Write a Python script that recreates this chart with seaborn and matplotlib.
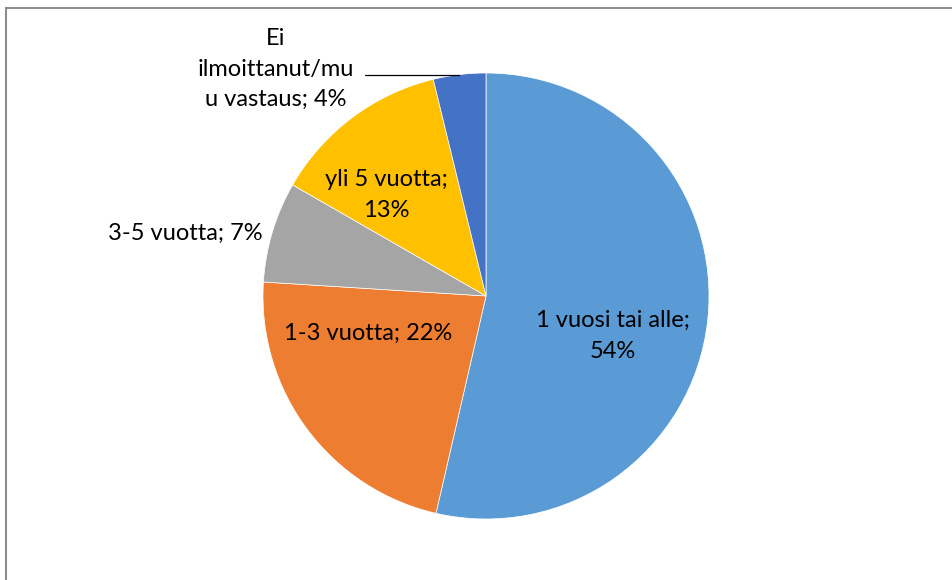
import matplotlib
matplotlib.use("Agg")
import matplotlib.pyplot as plt
import seaborn as sns
import numpy as np
from matplotlib.lines import Line2D

# ---- data ----
categories = ["1 vuosi tai alle", "1-3 vuotta", "3-5 vuotta", "yli 5 vuotta",
              "Ei ilmoittanut/muu vastaus"]
values = [53.6, 22.4, 7.3, 12.9, 3.8]
label_texts = ["1 vuosi tai alle;\n{p}%", "1-3 vuotta; {p}%", "3-5 vuotta; {p}%",
               "yli 5 vuotta;\n{p}%", "Ei\nilmoittanut/mu\nu vastaus; {p}%"]
colors = ["#5B9BD5", "#ED7D31", "#A5A5A5", "#FFC000", "#4472C4"]

sns.set_theme(style="white")
plt.rcParams['font.family'] = ['Lato', 'DejaVu Sans']

W, H = 953, 580
fig = plt.figure(figsize=(W / 100, H / 100), dpi=100)
ax = fig.add_axes([0, 0, 1, 1])

cx, cy, R = 486, H - 296, 223
wedges, _ = ax.pie(values, colors=colors, startangle=90, counterclock=False,
                   radius=R, center=(cx, cy),
                   wedgeprops=dict(edgecolor="white", linewidth=0.5))
ax.set_xlim(0, W)
ax.set_ylim(0, H)
ax.set_aspect("equal")
ax.axis("off")

# label layout (pixel positions, top-left origin)
label_pos = [(613, 336), (368, 333), (263, 233), (386, 195), (276, 69)]
label_ha = ["center", "center", "right", "center", "center"]
fs = 17
for i, (txt, (px, py), ha) in enumerate(zip(label_texts, label_pos, label_ha)):
    pct = int(round(values[i]))
    ax.text(px, H - py, txt.format(p=pct), ha=ha, va="center", fontsize=fs,
            color="black", linespacing=1.55, multialignment="center")

# leader line for the small slice
w = wedges[4]
mid = np.deg2rad((w.theta1 + w.theta2) / 2)
ex, ey = cx + R * np.cos(mid), cy + R * np.sin(mid)
ax.plot([365, ex], [ey, ey], color="black", lw=0.9)

# chart border (top and left visible)
fig.add_artist(Line2D([6 / W, 1], [1 - 8 / H, 1 - 8 / H], color="#8c8c8c", lw=1.5,
                      transform=fig.transFigure))
fig.add_artist(Line2D([6 / W, 6 / W], [0, 1 - 8 / H], color="#8c8c8c", lw=1.5,
                      transform=fig.transFigure))

fig.savefig("out.png", dpi=100)
